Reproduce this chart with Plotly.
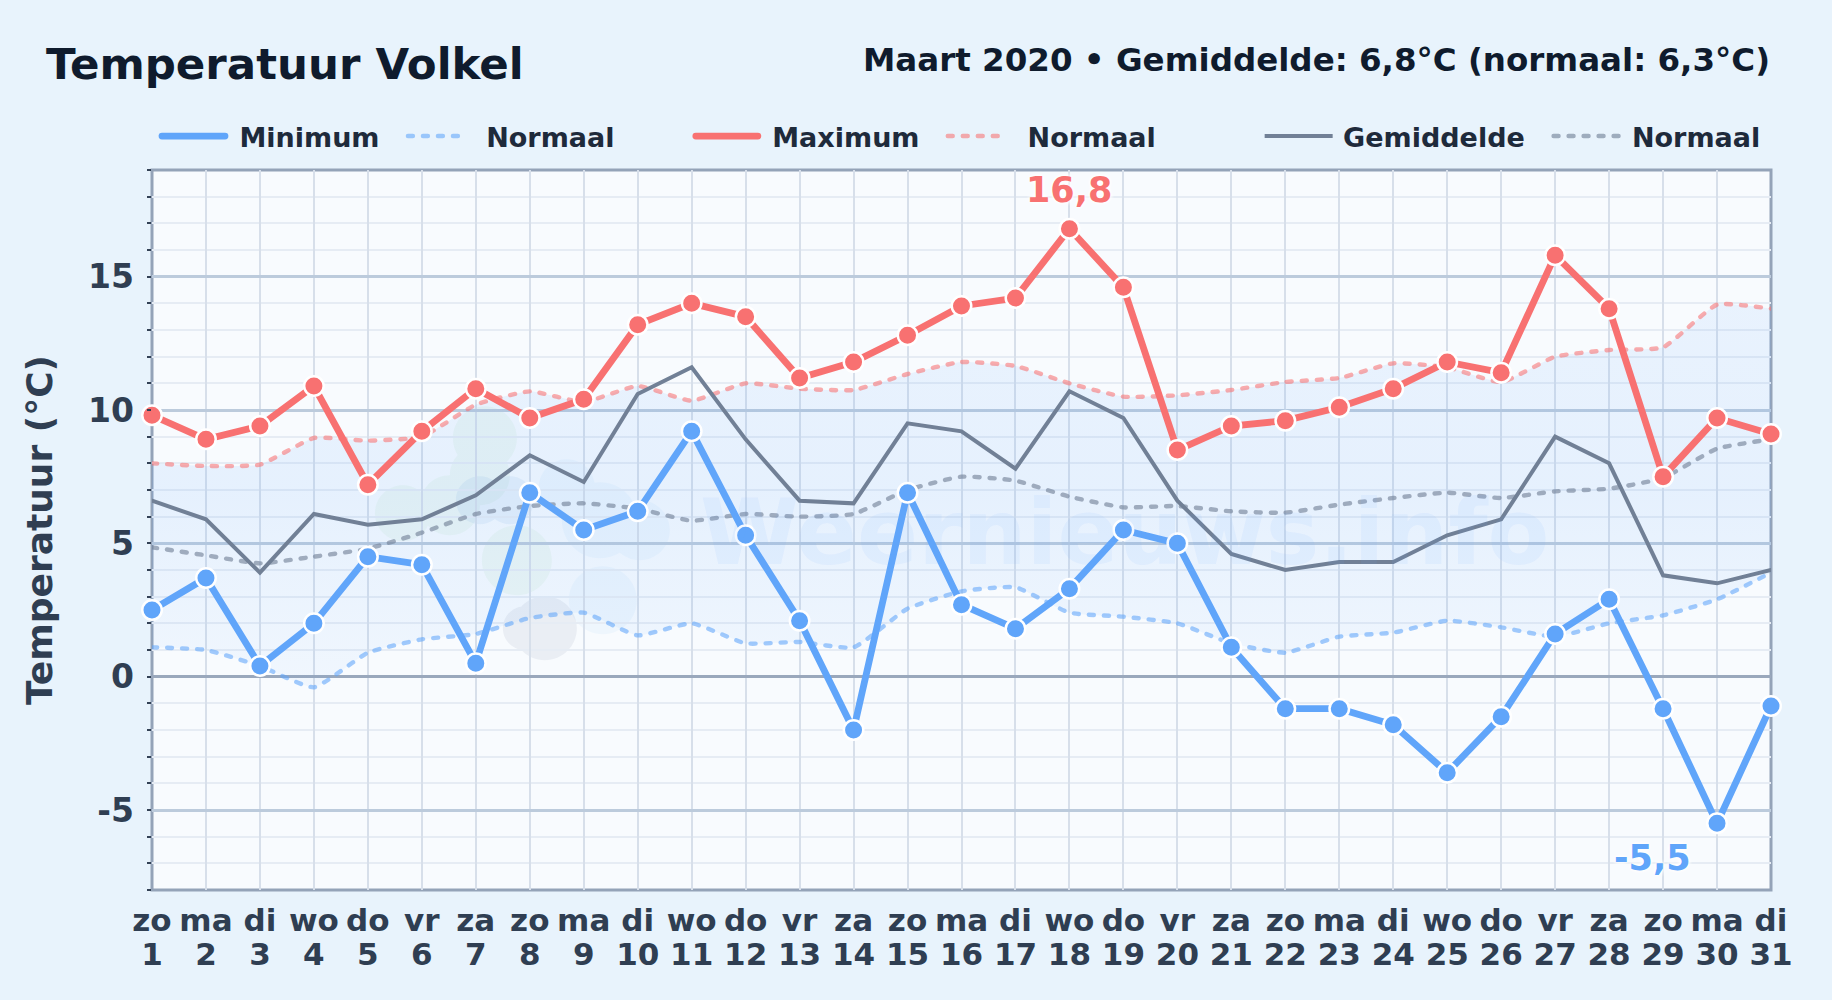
import plotly.graph_objects as go

days = list(range(1, 32))
weekdays = ["zo","ma","di","wo","do","vr","za","zo","ma","di","wo","do","vr","za","zo","ma","di","wo","do","vr","za","zo","ma","di","wo","do","vr","za","zo","ma","di"]
t_min = [2.5,3.7,0.4,2.0,4.5,4.2,0.5,6.9,5.5,6.2,9.2,5.3,2.1,-2.0,6.9,2.7,1.8,3.3,5.5,5.0,1.1,-1.2,-1.2,-1.8,-3.6,-1.5,1.6,2.9,-1.2,-5.5,-1.1]
t_max = [9.8,8.9,9.4,10.9,7.2,9.2,10.8,9.7,10.4,13.2,14.0,13.5,11.2,11.8,12.8,13.9,14.2,16.8,14.6,8.5,9.4,9.6,10.1,10.8,11.8,11.4,15.8,13.8,7.5,9.7,9.1]
t_mean = [6.6,5.9,3.9,6.1,5.7,5.9,6.8,8.3,7.3,10.6,11.6,8.9,6.6,6.5,9.5,9.2,7.8,10.7,9.7,6.6,4.6,4.0,4.3,4.3,5.3,5.9,9.0,8.0,3.8,3.5,4.0]
norm_min = [1.1,1.0,0.4,-0.4,0.9,1.4,1.6,2.2,2.4,1.55,2.0,1.25,1.3,1.1,2.55,3.2,3.35,2.4,2.25,2.0,1.25,0.9,1.5,1.65,2.1,1.85,1.5,2.0,2.3,2.9,3.9]
norm_max = [8.0,7.9,7.95,8.95,8.85,9.0,10.2,10.7,10.3,10.9,10.35,11.0,10.8,10.75,11.35,11.8,11.65,11.0,10.5,10.55,10.75,11.05,11.2,11.75,11.6,11.05,12.0,12.25,12.35,13.95,13.8]
norm_mean = [4.85,4.55,4.25,4.5,4.8,5.4,6.1,6.4,6.5,6.3,5.85,6.1,6.0,6.1,7.0,7.5,7.35,6.75,6.35,6.4,6.2,6.15,6.45,6.7,6.9,6.7,6.95,7.05,7.45,8.55,8.9]
y_ticks = [-5, 0, 5, 10, 15]
y_tick_labels = ["-5", "0", "5", "10", "15"]

FONT = "DejaVu Sans"
BLUE, RED, GREY = "#60a5fa", "#f87171", "#718096"
W, H = 1832, 1000
L, R, T, B = 152, 1771.5, 169.5, 890
px = lambda x: (x - L) / (R - L)
py = lambda y: (B - y) / (B - T)
SMOOTH = 0.45

fig = go.Figure()

def legend_line(y, name, color, width, dash, legend):
    fig.add_trace(go.Scatter(x=days, y=y, mode="lines", name=name, legend=legend,
                             line=dict(color=color, width=width, dash=dash, shape="spline" if dash != "solid" else "linear", smoothing=SMOOTH),
                             hoverinfo="skip", cliponaxis=False))

# hidden trace that keeps the second (day number) axis alive
fig.add_trace(go.Scatter(x=days, y=[None] * 31, xaxis="x2", mode="lines", showlegend=False, hoverinfo="skip"))

# band between normal min and normal max
fig.add_trace(go.Scatter(x=days, y=norm_max, mode="lines", line=dict(width=0, shape="spline", smoothing=SMOOTH), showlegend=False, hoverinfo="skip"))
fig.add_trace(go.Scatter(x=days, y=norm_min, mode="lines", line=dict(width=0, shape="spline", smoothing=SMOOTH), fill="tonexty",
                         fillgradient=dict(type="vertical", colorscale=[[0, "rgba(96,165,250,0.05)"], [0.5, "rgba(96,165,250,0.12)"], [1, "rgba(96,165,250,0.10)"]]),
                         showlegend=False, hoverinfo="skip"))

DASH = "5px,10px"
legend_line(norm_mean, "\u2009Normaal", "rgba(113,128,150,0.62)", 4.4, DASH, "legend6")
legend_line(norm_min, "\u00a0\u00a0Normaal", "rgba(96,165,250,0.58)", 4.4, DASH, "legend2")
legend_line(norm_max, "\u00a0\u2009Normaal", "rgba(248,113,113,0.58)", 4.4, DASH, "legend4")
legend_line(t_mean, "\u2009Gemiddelde", GREY, 4, "solid", "legend5")
legend_line(t_min, "\u00a0Minimum", BLUE, 6.8, "solid", "legend")
legend_line(t_max, "\u00a0Maximum", RED, 6.8, "solid", "legend3")

for y, c in ((t_min, BLUE), (t_max, RED)):
    fig.add_trace(go.Scatter(x=days, y=y, mode="markers", showlegend=False, hoverinfo="skip", cliponaxis=False,
                             marker=dict(color=c, size=19.5, line=dict(color="white", width=2.5))))

# watermark blobs: page-pixel centre x, centre y, radius per colour group
blobs = [
    ("#8fcf8f", 0.09, [(485, 438, 32), (480, 475, 30), (403, 513, 28), (450, 505, 30), (517, 560, 35)]),
    ("#64a0d8", 0.10, [(480, 500, 24), (510, 500, 24)]),
    ("#64748b", 0.09, [(525, 628, 22), (545, 628, 32)]),
    ("#7cc0f5", 0.08, [(567, 487, 28), (600, 520, 38), (640, 530, 30), (603, 600, 34)]),
]

def circle_path(x, y, r):
    k = 0.5523 * r
    pts = [(x + r, y), (x + r, y + k), (x + k, y + r), (x, y + r), (x - k, y + r), (x - r, y + k), (x - r, y),
           (x - r, y - k), (x - k, y - r), (x, y - r), (x + k, y - r), (x + r, y - k), (x + r, y)]
    p = [f"{px(a):.5f},{py(b):.5f}" for a, b in pts]
    return "M" + p[0] + "".join(f"C{p[i]} {p[i+1]} {p[i+2]}" for i in range(1, 13, 3)) + "Z"

shapes = [dict(type="path", xref="paper", yref="paper", layer="below", line_width=0, fillcolor=c, opacity=o, fillrule="nonzero",
               path=" ".join(circle_path(*b) for b in group))
          for c, o, group in blobs]
shapes.append(dict(type="rect", xref="paper", yref="paper", layer="between", x0=0, x1=1, y0=0, y1=1,
                   line=dict(color="#94a3b8", width=3)))

def note(text, x, y, size, color, anchor="left"):
    return dict(text=text, xref="paper", yref="paper", x=px(x), y=py(y), xanchor=anchor, yanchor="middle", showarrow=False,
                font=dict(family=FONT, size=size, color=color, weight="bold"))

anns = [
    note("Temperatuur Volkel", 44, 63, 43.5, "#0f1b2d"),
    note("Maart 2020 • Gemiddelde: 6,8°C (normaal: 6,3°C)", 1773, 59, 32.5, "#0f1b2d", "right"),
    note("Weernieuws.info", 1125, 532, 90, "rgba(96,165,250,0.08)", "center"),
]
imax = t_max.index(max(t_max))
imin = t_min.index(min(t_min))
halo = "0 0 5px white, 0 0 5px white, 0 0 5px white"
anns.append(dict(text=f"{t_max[imax]}".replace(".", ","), x=days[imax], y=t_max[imax], yshift=39, showarrow=False,
                 font=dict(family=FONT, size=35, color=RED, weight="bold", shadow=halo)))
anns.append(dict(text=f"{t_min[imin]}".replace(".", ","), x=days[imin], y=t_min[imin], xshift=-65, yshift=-35, showarrow=False,
                 font=dict(family=FONT, size=35, color=BLUE, weight="bold", shadow=halo)))

def leg(x, iw):
    return dict(x=px(x - 5), y=py(136), xanchor="left", yanchor="middle", orientation="h", bgcolor="rgba(0,0,0,0)", itemwidth=iw,
                font=dict(family=FONT, size=27, color="#1e2a3b", weight="bold"), tracegroupgap=0, itemclick=False, itemdoubleclick=False)

tick_font = dict(family=FONT, size=31, color="#2f3e52", weight="bold")

fig.update_layout(
    width=W, height=H, autosize=False,
    margin=dict(l=L, r=W - R, t=T, b=H - B, pad=0),
    paper_bgcolor="#e8f3fc", plot_bgcolor="#f8fbfe",
    font=dict(family=FONT, color="#2f3e52"),
    shapes=shapes, annotations=anns,
    legend=leg(162, 63), legend2=leg(408, 54.5), legend3=leg(696, 62),
    legend4=leg(948, 60), legend5=leg(1265, 68), legend6=leg(1554, 68),
    xaxis=dict(range=[1, 31], tickmode="array", tickvals=days, ticktext=weekdays, showgrid=True, gridcolor="#d7dfea", gridwidth=2,
               tickfont=tick_font, ticks="", showline=False, zeroline=False, tickangle=0, ticklabelstandoff=9),
    xaxis2=dict(range=[1, 31], overlaying="x", anchor="y", side="bottom", tickmode="array", tickvals=days, ticktext=[str(d) for d in days],
                showgrid=False, tickfont=tick_font, ticks="", showline=False, zeroline=False, tickangle=0, ticklabelstandoff=43),
    yaxis=dict(range=[-8, 19], tickmode="array", tickvals=y_ticks, ticktext=y_tick_labels, showgrid=True, gridcolor="#bccbdc", gridwidth=2.5,
               tickfont=dict(family=FONT, size=33, color="#2f3e52", weight="bold"), ticks="", showline=False, ticklabelstandoff=17,
               zeroline=True, zerolinecolor="#9aa8bc", zerolinewidth=2.5,
               title=dict(text="Temperatuur (°C)", font=dict(family=FONT, size=36, color="#2f3e52", weight="bold"), standoff=24),
               minor=dict(tickmode="linear", dtick=1, tick0=0, ticks="outside", ticklen=4, tickwidth=1.5, tickcolor="#334155", showgrid=True, gridcolor="#e6ecf4", gridwidth=2)),
)

css = (".scatterlayer .js-line, .legendlines path {stroke-linecap: round;}"
       ".legend5 .legendlines path {stroke-linecap: butt;}")
post = ("document.body.style.margin='0';var s=document.createElement('style');s.textContent=%r;document.head.appendChild(s);" % css)
fig.write_html("out.html", config=dict(displayModeBar=False), post_script=post)
